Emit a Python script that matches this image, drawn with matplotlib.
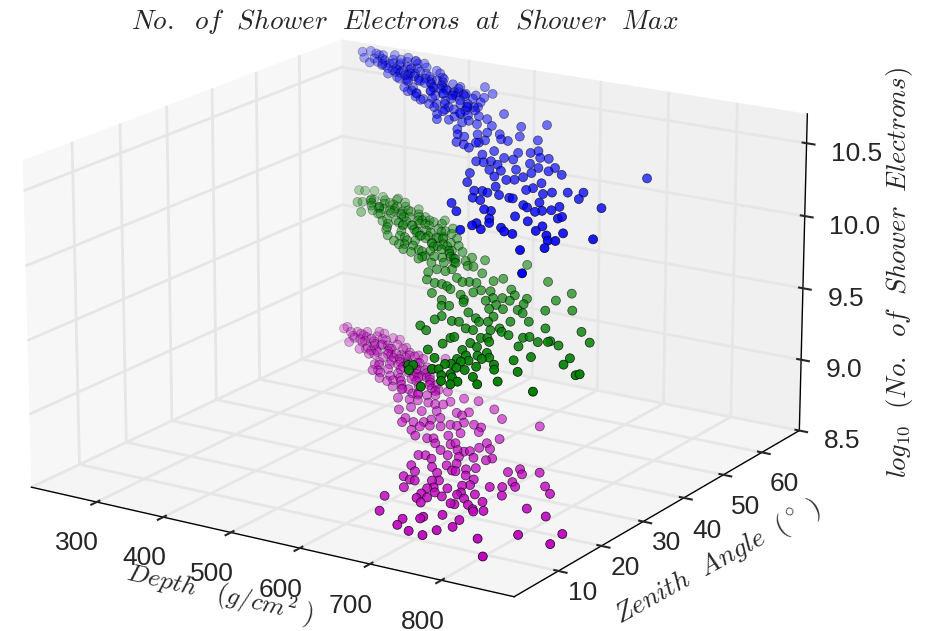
import matplotlib
matplotlib.use('Agg')
import matplotlib.pyplot as plt

m_depth = [288,288,304,311,318,319,316,322,339,335,334,351,343,350,356,362,378,373,365,371,386,395,391,389,402,407,410,396,414,438,431,423,420,433,436,453,463,457,454,455,459,468,504,475,471,487,501,464,515,488,526,535,537,548,566,503,495,523,539,597,622,564,572,576,517,519,531,542,548,554,586,542,547,556,569,576,585,601,614,558,573,580,593,601,618,674,651,592,607,613,646,658,644,608,626,633,641,592,600,613,623,638,655,676,670,602,624,646,639,615,641,652,664,657,672,713,720,729,747,610,623,630,673,731,629,648,655,655,660,676,689,693,686,717,730,743,773,789,623,656,668,680,695,695,713,657,667,707,743,670,702,705,720,732,641,733,735,747,787,674,694,694,710,734,818,680,737,700,719,727,781,815,858,861,810,
330,345,355,365,380,385,398,405,415,425,440,445,410,420,430,378,360,352,340,328,395,410,425,440,450,465,475,485,448,490,370,392,404,418,435,450,462,476,495,510,
312,322,334,348,358,368,376,388,400,412,422,432,442,452,460,470,480,492,502,516,385,400,415,430,445,460,478,496,345,362]
m_zenith = [57.0,57.8,56.2,56.7,54.9,53.5,56.8,57.4,55.8,58.3,54.4,54.7,52.3,52.8,56.7,54.6,54.6,57.4,51.2,52.4,52.5,53.1,55.4,50.0,50.9,52.1,54.0,47.3,48.2,45.7,47.9,51.3,54.6,53.7,51.3,50.9,51.4,55.3,45.2,47.4,48.4,49.0,45.4,41.1,44.2,44.0,43.9,43.7,42.0,41.8,41.9,42.4,43.8,45.3,45.9,39.8,38.2,39.2,40.2,44.7,42.5,41.0,41.0,42.0,36.3,35.2,36.0,36.7,37.5,38.7,39.2,33.8,35.0,35.9,36.4,37.6,37.7,39.2,38.8,32.2,32.6,33.0,34.4,36.0,37.6,43.1,37.2,31.5,32.7,32.9,35.0,33.8,33.5,30.2,31.3,31.7,31.8,27.6,28.0,27.3,29.5,29.7,30.4,31.4,30.9,24.4,25.7,27.9,26.7,23.2,24.2,25.9,27.2,25.9,28.2,29.1,30.8,29.8,31.0,21.4,20.8,20.8,25.7,27.2,18.5,21.9,22.4,19.7,20.4,21.0,25.0,23.5,22.8,24.2,25.0,25.9,28.0,26.5,15.1,18.2,19.4,19.1,21.1,20.2,21.4,17.0,17.8,19.9,22.8,15.9,17.6,18.0,18.7,20.1,11.2,17.7,17.5,17.9,21.4,11.2,12.7,12.0,14.5,14.5,20.7,9.1,12.5,8.5,8.6,10.5,11.1,14.8,17.9,14.6,7.6,
56.0,55.5,54.0,53.0,53.5,51.5,52.0,50.0,50.5,49.5,49.0,50.5,53.0,52.0,50.5,56.0,52.5,56.5,57.0,54.8,49.0,47.0,47.0,47.0,49.5,47.0,46.0,47.0,46.0,43.5,55.0,56.0,55.0,54.0,52.5,52.0,50.0,48.5,46.0,44.5,
55.5,56.5,55.0,53.5,55.5,52.0,54.5,53.0,53.5,51.5,50.5,52.5,50.5,48.5,49.0,49.5,48.0,47.5,46.5,46.5,49.5,48.0,46.0,45.5,44.5,44.5,44.0,42.5,58.0,57.5]
m_logn = [8.85,8.85,8.85,8.85,8.84,8.83,8.84,8.85,8.84,8.85,8.83,8.83,8.82,8.82,8.83,8.83,8.82,8.84,8.82,8.82,8.82,8.82,8.82,8.80,8.81,8.81,8.81,8.79,8.80,8.78,8.79,8.80,8.81,8.81,8.80,8.79,8.80,8.81,8.77,8.78,8.78,8.78,8.77,8.76,8.77,8.76,8.76,8.77,8.75,8.75,8.75,8.75,8.75,8.76,8.75,8.74,8.74,8.74,8.74,8.74,8.73,8.74,8.73,8.74,8.73,8.72,8.72,8.72,8.73,8.73,8.72,8.71,8.72,8.72,8.72,8.72,8.72,8.72,8.72,8.71,8.70,8.70,8.71,8.71,8.71,8.72,8.70,8.70,8.69,8.70,8.70,8.69,8.69,8.69,8.69,8.68,8.69,8.68,8.68,8.68,8.68,8.68,8.68,8.68,8.67,8.67,8.66,8.67,8.67,8.66,8.66,8.66,8.66,8.66,8.66,8.66,8.66,8.65,8.66,8.65,8.65,8.65,8.65,8.64,8.64,8.65,8.65,8.64,8.64,8.64,8.65,8.64,8.64,8.64,8.64,8.64,8.64,8.63,8.63,8.63,8.63,8.62,8.63,8.63,8.63,8.62,8.62,8.62,8.63,8.62,8.62,8.61,8.61,8.62,8.61,8.61,8.60,8.61,8.61,8.59,8.60,8.60,8.60,8.59,8.60,8.59,8.58,8.58,8.57,8.58,8.57,8.57,8.57,8.56,8.54,
8.84,8.83,8.83,8.82,8.82,8.81,8.81,8.80,8.80,8.79,8.79,8.79,8.81,8.80,8.80,8.83,8.82,8.84,8.84,8.84,8.80,8.79,8.78,8.78,8.78,8.78,8.77,8.77,8.78,8.76,8.83,8.82,8.81,8.81,8.80,8.79,8.79,8.78,8.77,8.76,
8.84,8.84,8.83,8.82,8.82,8.81,8.82,8.81,8.81,8.80,8.79,8.80,8.79,8.78,8.78,8.78,8.77,8.77,8.76,8.76,8.79,8.78,8.77,8.77,8.76,8.76,8.75,8.74,8.85,8.84]

g_depth = [289,297,308,314,319,336,324,326,329,347,348,344,352,350,359,367,368,391,392,384,387,396,402,408,418,416,419,432,437,445,439,446,451,468,478,477,426,448,451,449,473,474,489,499,473,488,511,528,491,490,513,545,546,565,523,534,556,564,531,525,541,547,585,537,553,563,570,565,580,587,597,611,616,645,566,580,600,608,615,627,658,617,670,714,709,678,588,611,636,641,651,661,683,601,609,616,656,669,686,698,716,744,640,654,617,617,672,612,625,638,647,657,668,665,673,677,700,700,719,747,663,668,701,694,691,706,720,737,745,667,694,711,761,771,772,786,788,815,661,697,706,747,707,709,719,721,725,737,764,778,820,682,702,708,713,732,667,672,675,696,703,718,731,739,760,753,823,715,725,730,750,788,850,855,726,739,744,766,784,714,833,
332,340,358,365,375,382,395,405,412,425,430,440,455,460,465,480,490,500,420,435,445,460,480,505,515,530,540,375,390,405,420,450,470,495,510,525,350,362,378,395,
322,335,347,356,370,380,388,400,410,418,428,438,448,458,470,476,485,495,508,520,400,412,428,442,455,470,490,510,352,368]
g_zenith = [60.6,60.8,61.4,56.4,56.8,53.9,58.0,58.5,60.2,56.6,54.8,58.2,58.3,60.6,54.4,56.0,57.0,51.8,53.6,56.0,57.3,58.4,55.3,52.7,53.3,55.2,56.4,54.3,55.6,57.0,51.1,52.4,54.5,53.5,53.4,51.6,49.2,46.9,48.9,50.7,51.0,49.3,48.3,49.0,46.3,46.7,48.2,46.0,45.0,43.6,45.6,47.6,45.9,47.5,44.4,45.1,44.8,44.9,41.5,40.4,41.9,42.5,43.6,38.2,37.5,37.6,37.7,40.8,39.7,40.2,40.3,42.1,43.6,40.8,34.8,36.9,36.1,37.8,38.5,38.8,39.5,49.2,45.5,43.9,40.9,39.1,33.6,35.1,36.2,37.1,37.7,37.8,37.5,31.5,32.0,34.2,35.4,34.9,35.6,34.8,37.2,39.0,31.5,34.1,27.4,29.0,32.2,24.9,24.2,28.0,28.2,30.5,29.5,26.9,27.3,30.1,29.1,31.6,32.8,32.1,23.7,23.8,26.1,25.7,28.4,28.6,27.9,28.5,28.7,21.3,23.3,24.9,28.0,28.7,29.1,28.7,33.8,31.2,18.9,21.0,22.9,25.8,18.2,19.9,18.9,20.6,22.1,20.7,21.9,23.6,25.7,17.1,16.3,16.7,18.1,19.8,13.6,13.9,12.5,14.3,14.7,16.3,16.1,17.4,18.1,19.2,23.7,13.4,13.9,13.4,14.9,18.9,22.0,22.1,11.6,11.6,12.4,13.3,15.0,9.0,15.0,
57.0,59.0,56.0,58.0,55.0,53.0,55.0,54.0,56.0,54.0,52.0,54.0,52.0,50.0,53.0,51.0,49.5,47.5,50.5,49.0,48.0,47.0,46.0,45.0,47.0,46.0,44.5,58.5,57.5,57.0,55.5,55.5,55.0,52.0,50.0,48.5,56.0,54.5,52.5,51.0,
58.5,56.5,56.5,58.5,56.5,57.0,55.5,53.0,52.5,53.5,56.0,51.5,50.5,51.0,51.0,49.0,48.0,50.5,48.0,46.5,50.0,48.5,47.5,46.5,45.5,45.0,44.5,43.5,60.0,59.5]
g_logn = [9.80,9.80,9.80,9.79,9.79,9.77,9.79,9.79,9.79,9.78,9.78,9.78,9.79,9.79,9.77,9.78,9.78,9.76,9.76,9.77,9.78,9.78,9.77,9.75,9.75,9.76,9.77,9.76,9.76,9.76,9.75,9.75,9.74,9.75,9.74,9.74,9.74,9.73,9.73,9.74,9.74,9.73,9.73,9.73,9.72,9.72,9.72,9.71,9.71,9.71,9.71,9.71,9.71,9.71,9.70,9.70,9.70,9.70,9.70,9.69,9.69,9.70,9.69,9.68,9.68,9.68,9.67,9.68,9.68,9.68,9.68,9.68,9.68,9.67,9.66,9.67,9.66,9.66,9.67,9.67,9.66,9.70,9.68,9.66,9.65,9.66,9.65,9.65,9.65,9.66,9.66,9.65,9.65,9.65,9.65,9.65,9.65,9.64,9.64,9.64,9.64,9.64,9.64,9.64,9.63,9.63,9.63,9.62,9.61,9.63,9.63,9.63,9.63,9.62,9.61,9.63,9.62,9.63,9.63,9.62,9.60,9.61,9.60,9.60,9.61,9.61,9.61,9.60,9.61,9.60,9.60,9.60,9.60,9.60,9.60,9.59,9.61,9.60,9.59,9.59,9.59,9.59,9.58,9.58,9.57,9.58,9.58,9.58,9.57,9.58,9.58,9.58,9.57,9.57,9.57,9.58,9.57,9.57,9.56,9.56,9.56,9.56,9.56,9.57,9.56,9.57,9.57,9.55,9.56,9.55,9.55,9.56,9.55,9.56,9.55,9.54,9.55,9.54,9.55,9.54,9.53,
9.79,9.79,9.78,9.78,9.78,9.77,9.77,9.76,9.77,9.76,9.75,9.76,9.75,9.74,9.75,9.74,9.73,9.73,9.75,9.74,9.74,9.73,9.72,9.72,9.72,9.71,9.71,9.78,9.77,9.77,9.76,9.76,9.75,9.74,9.73,9.72,9.78,9.77,9.76,9.75,
9.79,9.78,9.78,9.78,9.77,9.77,9.77,9.76,9.76,9.75,9.76,9.75,9.74,9.74,9.74,9.73,9.73,9.73,9.72,9.71,9.75,9.74,9.73,9.73,9.72,9.72,9.71,9.70,9.79,9.79]

b_depth = [292,299,307,322,312,316,320,320,329,336,369,343,347,333,368,362,365,392,355,373,384,376,400,391,398,399,398,416,432,419,433,414,436,451,446,442,459,467,470,478,475,495,486,487,485,471,504,458,452,483,502,524,525,529,531,524,530,530,530,532,505,518,506,576,552,569,571,589,549,557,570,579,591,597,614,622,645,584,594,607,
606,609,610,624,635,637,665,638,634,661,667,680,684,640,650,655,670,674,698,709,701,716,697,684,670,654,733,734,717,752,687,707,715,718,747,708,669,692,701,710,727,743,746,769,775,791,807,813,703,716,740,745,767,776,781,690,710,737,744,790,795,803,807,852,780,756,753,750,800,828,824,748,767,784,795,805,765,825,822,842,851,859,854,896,840,860,880,847,
330,340,350,358,375,380,388,405,410,420,428,440,448,455,465,490,505,515,520,540,390,395,425,440,460,478,495,510,425,440,470,495,515,545,555,408,372,352,365,385,
340,348,358,370,382,392,402,412,418,430,435,450,458,470,482,492,500,512,525,535,415,430,448,462,478,492,508,530,368,378]
b_zenith = [61.1,62.0,59.2,58.2,61.3,61.4,59.6,61.7,59.0,59.6,55.3,57.9,59.1,62.5,57.4,59.1,57.1,55.8,62.3,61.4,58.5,57.8,55.2,54.6,57.2,58.3,60.0,55.2,51.1,56.4,55.3,59.9,56.5,55.3,54.0,50.7,49.6,51.2,53.5,53.9,55.9,54.0,48.5,50.4,52.4,52.5,48.5,53.8,52.4,54.2,57.5,55.8,53.6,52.1,50.2,49.8,48.3,47.2,45.7,44.1,45.6,43.5,47.3,50.1,45.6,44.8,46.9,45.1,44.5,42.1,40.1,40.2,41.4,42.7,42.9,46.7,49.1,37.6,37.7,36.8,
38.6,38.8,40.1,41.6,41.4,43.9,43.6,37.7,35.6,36.3,38.6,39.4,40.6,33.2,33.3,34.2,33.3,36.3,38.7,38.9,35.8,35.3,33.2,31.8,31.4,29.5,36.4,34.7,33.5,34.8,29.8,29.3,29.9,31.4,30.9,26.7,26.5,24.4,24.8,24.5,24.4,28.0,29.1,27.6,28.7,29.7,30.7,28.6,22.3,21.9,24.6,24.6,23.4,22.8,24.8,19.6,17.5,19.4,19.8,22.3,23.1,23.9,25.1,27.3,19.4,17.5,15.1,14.6,19.0,22.2,21.9,12.3,13.8,15.6,14.5,14.7,16.0,16.7,18.7,16.3,15.1,15.5,18.1,17.9,10.7,12.9,4.6,39.0,
60.0,58.5,59.5,57.0,59.0,56.5,54.5,56.0,58.0,55.0,56.5,54.5,56.0,52.0,54.0,52.5,51.0,52.5,50.5,49.0,59.0,56.0,59.0,57.5,56.5,55.0,53.5,54.0,52.5,51.0,50.0,49.0,48.0,46.5,47.5,54.0,56.5,61.0,60.5,61.5,
61.0,58.0,60.0,57.5,58.5,57.0,54.5,56.0,57.5,54.5,58.0,53.5,54.5,52.5,53.0,51.0,53.0,50.0,49.5,50.5,52.0,50.5,49.5,48.5,48.0,47.0,46.5,47.0,62.0,61.0]
b_logn = [10.78,10.78,10.77,10.76,10.78,10.77,10.77,10.77,10.76,10.77,10.75,10.76,10.76,10.77,10.76,10.76,10.75,10.75,10.77,10.77,10.76,10.75,10.74,10.74,10.75,10.75,10.76,10.74,10.73,10.74,10.74,10.75,10.74,10.73,10.73,10.72,10.71,10.72,10.73,10.72,10.73,10.72,10.71,10.71,10.72,10.72,10.70,10.73,10.73,10.72,10.73,10.72,10.72,10.71,10.70,10.70,10.70,10.69,10.69,10.69,10.69,10.69,10.70,10.69,10.68,10.68,10.69,10.68,10.68,10.67,10.67,10.66,10.67,10.67,10.67,10.68,10.68,10.66,10.65,10.65,
10.66,10.66,10.66,10.66,10.66,10.66,10.66,10.64,10.64,10.63,10.64,10.64,10.64,10.63,10.63,10.63,10.63,10.63,10.63,10.63,10.63,10.62,10.62,10.62,10.62,10.61,10.62,10.62,10.61,10.61,10.61,10.61,10.61,10.61,10.60,10.60,10.60,10.59,10.59,10.59,10.59,10.59,10.59,10.59,10.59,10.59,10.59,10.58,10.58,10.58,10.58,10.58,10.57,10.57,10.58,10.57,10.56,10.57,10.56,10.56,10.56,10.56,10.57,10.57,10.56,10.55,10.55,10.54,10.55,10.56,10.55,10.54,10.54,10.54,10.54,10.53,10.55,10.54,10.54,10.53,10.52,10.52,10.53,10.53,10.51,10.51,10.48,10.61,
10.77,10.76,10.76,10.76,10.76,10.75,10.75,10.75,10.75,10.74,10.74,10.74,10.74,10.73,10.73,10.72,10.72,10.72,10.71,10.70,10.76,10.75,10.75,10.74,10.73,10.73,10.72,10.72,10.73,10.72,10.72,10.71,10.70,10.70,10.69,10.74,10.75,10.77,10.77,10.76,
10.76,10.76,10.76,10.75,10.75,10.75,10.74,10.74,10.74,10.74,10.74,10.73,10.73,10.72,10.72,10.72,10.72,10.71,10.71,10.70,10.73,10.73,10.72,10.72,10.71,10.71,10.70,10.70,10.76,10.76]

depth_ticks = [300, 400, 500, 600, 700, 800]
zenith_ticks = [10, 20, 30, 40, 50, 60]
logn_ticks = [8.5, 9.0, 9.5, 10.0, 10.5]

plt.rcParams['mathtext.fontset'] = 'cm'
plt.rcParams['font.family'] = ['Liberation Sans', 'DejaVu Sans']
plt.rcParams['text.color'] = '.15'

fig = plt.figure(figsize=(9.28, 6.31), dpi=100)
ax = fig.add_axes([-0.056, -0.070, 1.0, 1.16], projection='3d')
ax.computed_zorder = False
ax.view_init(elev=17.5, azim=-57.5)
ax.set_proj_type('persp', focal_length=1.2)
ax.set_box_aspect((1, 1, 0.6), zoom=1.145)
ax.set_xlim(200, 900)
ax.set_ylim(0, 70)
ax.set_zlim(8.5, 10.7)
ax.set_xticks(depth_ticks)
ax.set_yticks(zenith_ticks)
ax.set_yticklabels([str(t) for t in zenith_ticks], ha='right')
for lab, va in zip(ax.get_yticklabels(), ['bottom', 'bottom', 'bottom', 'center', 'center', 'center']):
    lab.set_va(va)
ax.set_zticks(logn_ticks)
ax.set_zticklabels(['%.1f' % t for t in logn_ticks], ha='left')
ax.tick_params(labelsize=19, colors='.15')
ax.tick_params(axis='x', pad=8)
ax.tick_params(axis='y', pad=13)
ax.tick_params(axis='z', pad=1)
ax.xaxis.set_pane_color((.97, .97, .97, 1))
ax.yaxis.set_pane_color((.94, .94, .94, 1))
ax.zaxis.set_pane_color((.96, .96, .96, 1))
for axis in [ax.xaxis, ax.yaxis, ax.zaxis]:
    axis.pane.set_edgecolor('none')
    axis._axinfo['grid']['color'] = (.9, .9, .9, 1)
    axis._axinfo['grid']['linewidth'] = 2.0
    axis._axinfo['tick']['linewidth'] = {True: 1.5, False: 1.0}
    axis.line.set_color('k')
    axis.line.set_linewidth(1.0)

ax.scatter(m_depth, m_zenith, m_logn, s=42, c='m', edgecolors='k', linewidths=.5, zorder=1)
ax.scatter(g_depth, g_zenith, g_logn, s=42, c='g', edgecolors='k', linewidths=.5, zorder=2)
ax.scatter(b_depth, b_zenith, b_logn, s=42, c='b', edgecolors='k', linewidths=.5, zorder=3)

fig.text(405 / 928, 1 - 22 / 631, r'$No.\ \ of\ \ Shower\ \ Electrons\ \ at\ \ Shower\ \ Max$', fontsize=19.6, ha='center', va='center')
fig.text(220 / 928, 1 - 594 / 631, r'$Depth\ \ \ (g/cm^2\ )$', fontsize=18.5, rotation=-13, ha='center', va='center')
fig.text(718 / 928, 1 - 562 / 631, r'$Zenith\ \ Angle\ \ (^\circ\ )$', fontsize=19.5, rotation=29, ha='center', va='center')
fig.text(900 / 928, 1 - 272 / 631, r'$log_{10}\ \ (No.\ \ of\ \ Shower\ \ Electrons)$', fontsize=19.2, rotation=90, ha='center', va='center')

fig.savefig('out.png', dpi=100)
